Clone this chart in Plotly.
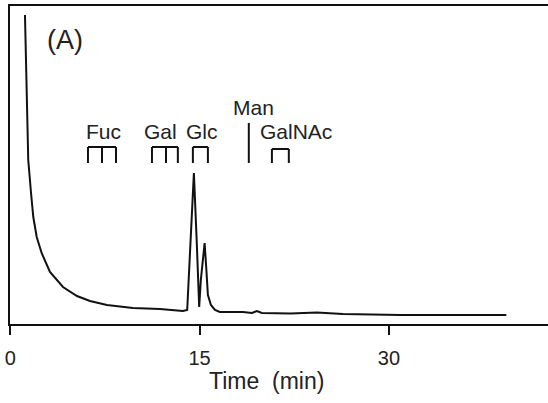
import plotly.graph_objects as go

# Chromatogram trace (time in min, detector signal in arbitrary units)
time_min = [1.17, 1.31, 1.43, 1.65, 1.83, 2.10, 2.49, 3.15, 4.18, 5.29, 6.32, 7.66,
            9.72, 11.86, 13.68, 14.02, 14.29, 14.55, 14.77, 14.97, 15.1, 15.4, 15.54,
            15.66, 15.9, 16.22, 16.61, 18.43, 19.15, 19.54, 19.94, 22.2, 24.3, 25.3,
            26.35, 30.9, 35.6, 36.2, 36.8, 39.3]
signal = [309, 214, 164, 131, 107, 87, 71, 52, 37, 28, 23, 19,
          16, 15, 13, 14, 84, 151, 84, 17, 44, 81, 54,
          29, 19, 14, 12, 12, 11, 13, 11, 10.5, 11.5, 10.5,
          10, 9, 9, 9.5, 9, 9]

# Standard sugar retention-time markers (min)
std_names = ["Fuc", "Gal", "Glc", "GalNAc"]
std_times = [[6.16, 7.27, 8.38], [11.23, 12.34, 13.28], [14.47, 15.66], [20.73, 22.07]]
man_time = 18.9

xticks = [0, 15, 30]

W, H = 548, 403
L, R, T, B = 10, 0, 6, 79
pw, ph = W - L - R, H - T - B
XR = [-0.016, 42.6]
YR = [0, 318]
FONT = "Liberation Sans, Arial, Helvetica, sans-serif"


def px(x):
    return (x - L) / pw


def py(y):
    return (H - B - y) / ph


fig = go.Figure()
fig.add_trace(go.Scatter(x=time_min, y=signal, mode="lines",
                         line=dict(color="#111", width=2), hoverinfo="skip"))

shapes = []
# brackets
top_s, bot_s = 177, 161
for i, ts in enumerate(std_times):
    tt = top_s - (2 if std_names[i] == "GalNAc" else 0)
    shapes.append(dict(type="line", xref="x", yref="y", x0=ts[0], x1=ts[-1], y0=tt, y1=tt,
                       line=dict(color="#111", width=2)))
    for t in ts:
        shapes.append(dict(type="line", xref="x", yref="y", x0=t, x1=t, y0=tt, y1=bot_s,
                           line=dict(color="#111", width=2)))
shapes.append(dict(type="line", xref="x", yref="y", x0=man_time, x1=man_time, y0=201, y1=161,
                   line=dict(color="#111", width=2)))

annotations = []
label_pos = {"Fuc": (103, 131), "Gal": (160, 131), "Glc": (201.5, 131),
             "Man": (253, 107), "GalNAc": (296, 131)}
for name, (x, y) in label_pos.items():
    annotations.append(dict(text=name, xref="paper", yref="paper", x=px(x), y=py(y),
                            xanchor="center", yanchor="middle", showarrow=False,
                            font=dict(family=FONT, size=21, color="#222")))
annotations.append(dict(text="(A)", xref="paper", yref="paper", x=px(65), y=py(40),
                        xanchor="center", yanchor="middle", showarrow=False,
                        font=dict(family=FONT, size=27, color="#222")))
annotations.append(dict(text="Time&nbsp;&nbsp;(min)", xref="paper", yref="paper",
                        x=px(266), y=py(381), xanchor="center", yanchor="middle",
                        showarrow=False, font=dict(family=FONT, size=23, color="#222")))

fig.update_layout(
    width=W, height=H, margin=dict(l=L, r=R, t=T, b=B),
    paper_bgcolor="white", plot_bgcolor="white", showlegend=False,
    shapes=shapes, annotations=annotations,
    xaxis=dict(range=XR, showgrid=False, zeroline=False, showline=True, mirror=True,
               linecolor="#111", linewidth=2, ticks="outside", ticklen=9, tickwidth=2,
               tickcolor="#111", tickvals=xticks, ticktext=[str(v) for v in xticks],
               tickfont=dict(family=FONT, size=20, color="#222"), ticklabelstandoff=6),
    yaxis=dict(range=YR, showgrid=False, zeroline=False, showline=True, mirror=False,
               linecolor="#111", linewidth=2, showticklabels=False, ticks=""),
)

fig.write_html("out.html")
